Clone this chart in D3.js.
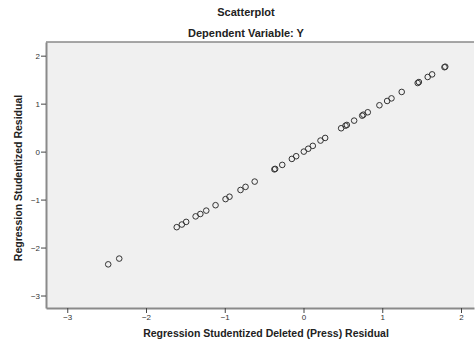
<!DOCTYPE html>
<html>
<head>
<meta charset="utf-8">
<script src="https://cdn.jsdelivr.net/npm/d3@7"></script>
<style>
  body { margin: 0; background: #fff; }
  text { font-family: "Liberation Sans", Arial, sans-serif; }
</style>
</head>
<body>
<div id="scatter"></div>
<script>
// residual pairs
var pressResid = [-2.48, -2.34, -1.61, -1.545, -1.49, -1.37, -1.31, -1.235, -1.117, -0.99,
  -0.94, -0.80, -0.736, -0.62, -0.37, -0.36, -0.27, -0.148, -0.093, 0.004,
  0.06, 0.118, 0.216, 0.275, 0.478, 0.533, 0.55, 0.643, 0.745, 0.76,
  0.816, 0.964, 1.062, 1.117, 1.247, 1.45, 1.465, 1.577, 1.633, 1.79, 1.8];
var studResid = [-2.35, -2.23, -1.575, -1.52, -1.465, -1.35, -1.30, -1.23, -1.117, -0.99,
  -0.94, -0.80, -0.735, -0.625, -0.37, -0.36, -0.277, -0.152, -0.096, 0.0,
  0.06, 0.12, 0.23, 0.285, 0.487, 0.54, 0.556, 0.646, 0.75, 0.77,
  0.82, 0.966, 1.056, 1.11, 1.244, 1.43, 1.45, 1.556, 1.61, 1.76, 1.77];
var xTicks = [-3, -2, -1, 0, 1, 2];
var yTicks = [-3, -2, -1, 0, 1, 2];

var svgWidth = 476;
var svgHeight = 341;
var margin = {top: 42, right: 2, bottom: 33, left: 46};
var chartWidth = svgWidth - margin.left - margin.right;
var chartHeight = svgHeight - margin.top - margin.bottom;

var svg = d3.select("#scatter").append("svg")
  .attr("width", svgWidth)
  .attr("height", svgHeight);

var chartGroup = svg.append("g")
  .attr("transform", `translate(${margin.left}, ${margin.top})`);

var xScale = d3.scaleLinear()
  .domain([-3.27, 2.165])
  .range([0, chartWidth]);
var yScale = d3.scaleLinear()
  .domain([-3.26, 2.285])
  .range([chartHeight, 0]);

chartGroup.append("rect")
  .attr("width", chartWidth)
  .attr("height", chartHeight)
  .attr("fill", "#f0f0f0");

// top frame line
chartGroup.append("line")
  .attr("x1", 0).attr("x2", chartWidth)
  .attr("y1", 0).attr("y2", 0)
  .attr("stroke", "#8a8a8a")
  .attr("stroke-width", 1.5);

var xAxis = d3.axisBottom(xScale).tickValues(xTicks).tickSize(5).tickSizeOuter(0)
  .tickFormat(d3.format("d"));
var yAxis = d3.axisLeft(yScale).tickValues(yTicks).tickSize(5).tickSizeOuter(0)
  .tickFormat(d3.format("d"));

var xg = chartGroup.append("g")
  .attr("transform", `translate(0, ${chartHeight})`)
  .call(xAxis);
var yg = chartGroup.append("g")
  .call(yAxis);

[xg, yg].forEach(function(g) {
  g.select(".domain").attr("stroke", "#8a8a8a").attr("stroke-width", 2);
  g.selectAll(".tick line").attr("stroke", "#444");
  g.selectAll(".tick text")
    .attr("fill", "#333")
    .style("font-size", "8px")
    .style("font-family", "Liberation Sans, Arial, sans-serif");
});
xg.selectAll(".tick text").attr("y", 6).attr("dy", "0.71em");
yg.selectAll(".tick text").attr("x", -6);

chartGroup.selectAll("circle")
  .data(pressResid)
  .enter()
  .append("circle")
  .attr("cx", (d, i) => xScale(d))
  .attr("cy", (d, i) => yScale(studResid[i]))
  .attr("r", 2.8)
  .attr("fill", "none")
  .attr("stroke", "#333")
  .attr("stroke-width", 1);

svg.append("text")
  .attr("x", 246).attr("y", 16)
  .attr("text-anchor", "middle")
  .style("font-size", "11px").style("font-weight", "bold")
  .attr("fill", "#222")
  .text("Scatterplot");
svg.append("text")
  .attr("x", 246).attr("y", 37)
  .attr("text-anchor", "middle")
  .style("font-size", "11px").style("font-weight", "bold")
  .attr("fill", "#222")
  .text("Dependent Variable: Y");
svg.append("text")
  .attr("x", 266).attr("y", 337)
  .attr("text-anchor", "middle")
  .style("font-size", "10.5px").style("font-weight", "bold")
  .attr("fill", "#222")
  .text("Regression Studentized Deleted (Press) Residual");
svg.append("text")
  .attr("transform", "translate(22, 178) rotate(-90)")
  .attr("text-anchor", "middle")
  .style("font-size", "10.5px").style("font-weight", "bold")
  .attr("fill", "#222")
  .text("Regression Studentized Residual");
</script>
</body>
</html>
